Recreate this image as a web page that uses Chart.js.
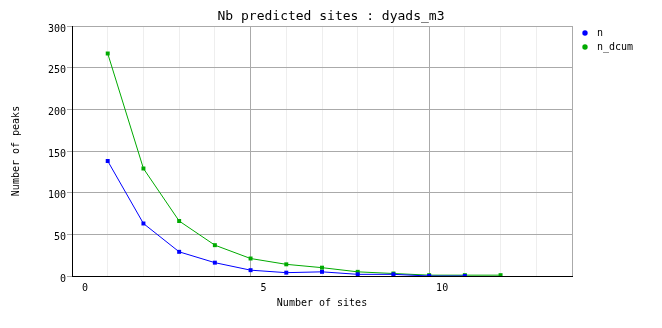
<!DOCTYPE html>
<html>
<head>
<meta charset="utf-8">
<script src="https://cdn.jsdelivr.net/npm/chart.js@4"></script>
<style>
  body { margin: 0; background: #fff; }
  canvas { display: block; }
</style>
</head>
<body>
<canvas id="grafico" width="662" height="328"></canvas>
<script>
// datos
const sitios = [1, 2, 3, 4, 5, 6, 7, 8, 9, 10, 11, 12];
const nValores = [138, 63, 29, 16, 7, 4, 5, 2, 2, 0, 0];
const nDcumValores = [267, 129, 66, 37, 21, 14, 10, 5, 3, 1, 1, 1];
const ticksX = [0, 5, 10];

const titulo = 'Nb predicted sites : dyads_m3';
const fuente = '"DejaVu Sans Mono", monospace';

const puntos = (valores) => valores.map((v, i) => ({ x: sitios[i], y: v }));

// titulo y leyenda dibujados a mano
const extras = {
  id: 'extras',
  afterDraw(chart) {
    const ctx = chart.ctx;
    ctx.save();
    ctx.fillStyle = '#000';
    ctx.font = '13px ' + fuente;
    ctx.textAlign = 'center';
    ctx.textBaseline = 'middle';
    ctx.fillText(titulo, 331, 17);
    ctx.font = '10px ' + fuente;
    ctx.textAlign = 'left';
    chart.data.datasets.forEach((ds, i) => {
      const y = 33 + i * 14;
      ctx.fillStyle = ds.borderColor;
      ctx.beginPath();
      ctx.arc(585, y, 2.7, 0, Math.PI * 2);
      ctx.fill();
      ctx.fillStyle = '#000';
      ctx.fillText(ds.label, 597, y);
    });
    ctx.restore();
  }
};

const grafico = document.getElementById('grafico');
new Chart(grafico, {
  type: 'line',
  data: {
    datasets: [
      {
        label: 'n',
        data: puntos(nValores),
        borderColor: '#0000ff',
        backgroundColor: '#0000ff',
        borderWidth: 1,
        pointStyle: 'rect',
        pointRadius: 2.8,
        pointBorderWidth: 0,
        tension: 0
      },
      {
        label: 'n_dcum',
        data: puntos(nDcumValores),
        borderColor: '#00aa00',
        backgroundColor: '#00aa00',
        borderWidth: 1,
        pointStyle: 'rect',
        pointRadius: 2.8,
        pointBorderWidth: 0,
        tension: 0
      }
    ]
  },
  options: {
    responsive: false,
    animation: false,
    layout: { padding: { top: 26, right: 90, left: 0, bottom: 0 } },
    plugins: { legend: { display: false }, title: { display: false }, tooltip: { enabled: false } },
    scales: {
      x: {
        type: 'linear',
        min: 0,
        max: 14,
        afterFit: (s) => { s.height = 52; },
        ticks: {
          stepSize: 1,
          autoSkip: false,
          maxRotation: 0,
          padding: 6,
          labelOffset: 13,
          color: '#000',
          font: { family: fuente, size: 10 },
          callback: (v) => ticksX.includes(v) ? String(v) : ''
        },
        grid: {
          drawTicks: false,
          color: (c) => (c.tick && (c.tick.value % 5 === 0 || c.tick.value === 14)) ? '#aaaaaa' : '#eeeeee'
        },
        border: { color: '#000', width: 1 },
        title: {
          display: true,
          text: 'Number of sites',
          color: '#000',
          font: { family: fuente, size: 10 },
          padding: { top: 0, bottom: 19 }
        }
      },
      y: {
        min: 0,
        max: 300,
        afterFit: (s) => { s.width = 72; },
        ticks: {
          stepSize: 50,
          padding: 1,
          labelOffset: 3,
          color: '#000',
          font: { family: fuente, size: 10 }
        },
        grid: { color: '#aaaaaa', tickLength: 5 },
        border: { color: '#000', width: 1 },
        title: {
          display: true,
          text: 'Number of peaks',
          color: '#000',
          font: { family: fuente, size: 10 },
          padding: { top: 10, bottom: 0 }
        }
      }
    }
  },
  plugins: [extras]
});
</script>
</body>
</html>
